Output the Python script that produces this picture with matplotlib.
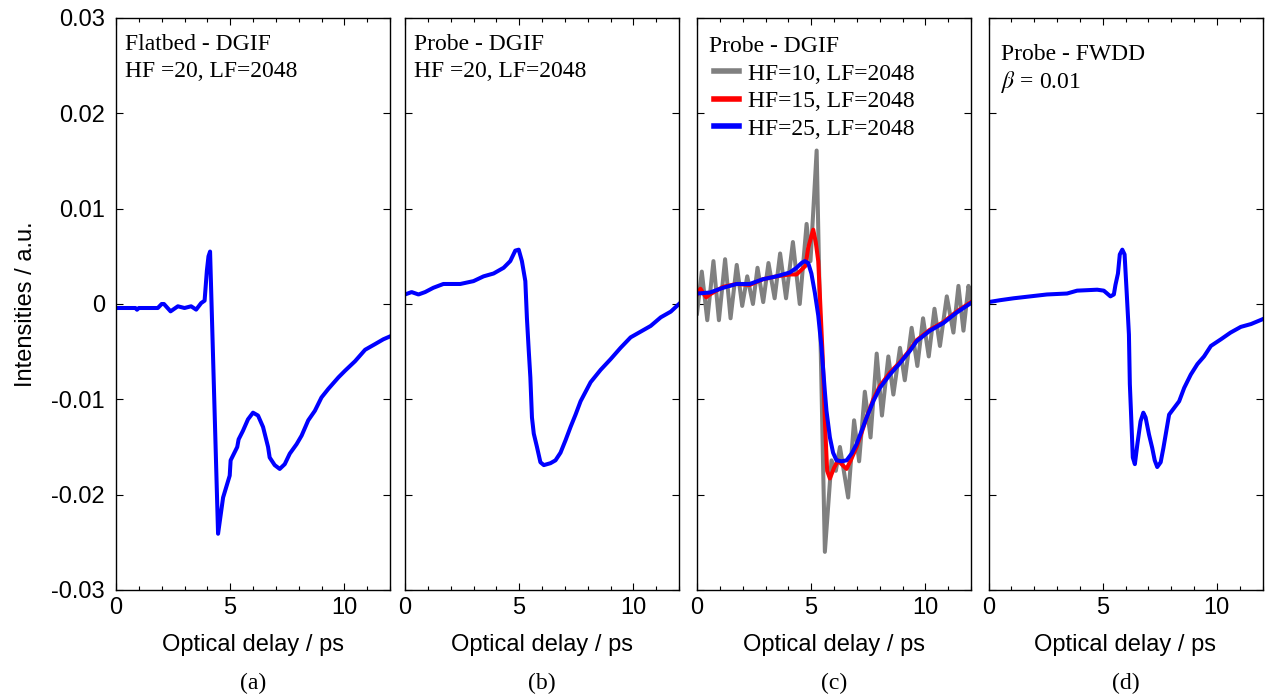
import numpy as np
import matplotlib
matplotlib.use("Agg")
import matplotlib.pyplot as plt
from matplotlib.ticker import MultipleLocator

# ---- data (intensity values in units of 1e-2 a.u.) ----
a_x = [0.0, 0.85, 0.92, 1.0, 1.83, 2.0, 2.1, 2.39, 2.71, 3.0, 3.29, 3.51, 3.73, 3.88, 3.98, 4.05, 4.12,
       4.47, 4.69, 4.98, 5.02, 5.31, 5.37, 5.56, 5.78, 6.0, 6.22, 6.44, 6.66, 6.73, 6.95, 7.17, 7.39,
       7.61, 7.91, 8.13, 8.42, 8.71, 9.0, 9.3, 9.74, 10.03, 10.47, 10.91, 11.35, 11.71, 12.0]
a_y = [-0.042, -0.042, -0.06, -0.042, -0.042, 0.0, 0.0, -0.077, -0.024, -0.042, -0.024, -0.059, 0.01,
       0.035, 0.35, 0.5, 0.55, -2.41, -2.03, -1.80, -1.64, -1.50, -1.42, -1.33, -1.21, -1.14, -1.17,
       -1.29, -1.50, -1.61, -1.69, -1.73, -1.68, -1.57, -1.47, -1.38, -1.22, -1.12, -0.98, -0.89,
       -0.77, -0.70, -0.60, -0.48, -0.42, -0.37, -0.34]

b_x = [0, 0.29, 0.59, 0.88, 1.24, 1.68, 2.42, 3.0, 3.44, 3.88, 4.32, 4.61, 4.83, 4.98, 5.12, 5.27,
       5.34, 5.42, 5.49, 5.56, 5.64, 5.78, 5.93, 6.08, 6.37, 6.59, 6.81, 7.03, 7.25, 7.47, 7.69, 8.13,
       8.57, 9.0, 9.44, 9.88, 10.32, 10.76, 11.2, 11.64, 12.0]
b_y = [0.10, 0.125, 0.10, 0.125, 0.17, 0.21, 0.21, 0.24, 0.29, 0.32, 0.38, 0.45, 0.56, 0.57, 0.45,
       0.24, -0.15, -0.49, -0.77, -1.19, -1.36, -1.50, -1.66, -1.69, -1.67, -1.64, -1.56, -1.43,
       -1.29, -1.16, -1.02, -0.82, -0.69, -0.58, -0.46, -0.35, -0.29, -0.23, -0.14, -0.08, 0.0]

c_gray_x = [0.0, 0.21, 0.45, 0.72, 0.96, 1.23, 1.47, 1.74, 1.98, 2.2, 2.45, 2.65, 2.9, 3.13, 3.4,
            3.64, 3.9, 4.2, 4.5, 4.8, 4.97, 5.24, 5.6, 5.89, 6.08, 6.26, 6.62, 6.88, 7.1, 7.35, 7.6,
            7.87, 8.1, 8.38, 8.6, 8.89, 9.1, 9.4, 9.65, 9.9, 10.15, 10.4, 10.64, 10.94, 11.23, 11.45,
            11.67, 11.89, 12.0]
c_gray_y = [-0.10, 0.34, -0.17, 0.45, -0.17, 0.47, -0.15, 0.41, -0.02, 0.29, 0.0, 0.38, 0.02, 0.43,
            0.06, 0.53, 0.06, 0.65, 0.0, 0.84, 0.45, 1.61, -2.60, -1.64, -1.75, -1.50, -2.03, -1.22,
            -1.65, -0.92, -1.40, -0.52, -1.17, -0.55, -0.95, -0.46, -0.80, -0.25, -0.65, -0.15,
            -0.55, -0.05, -0.44, 0.08, -0.30, 0.19, -0.28, 0.19, 0.05]

c_red_x = [0, 0.15, 0.4, 0.56, 1.14, 1.73, 2.31, 2.89, 3.48, 4.06, 4.36, 4.58, 4.75, 4.87, 5.09,
           5.2, 5.31, 5.38, 5.5, 5.6, 5.7, 5.82, 6.0, 6.18, 6.33, 6.55, 6.77, 6.99, 7.21, 7.43, 7.72,
           8.01, 8.45, 8.89, 9.33, 9.62, 10.2, 10.79, 11.37, 12.0]
c_red_y = [0.10, 0.16, 0.07, 0.10, 0.18, 0.21, 0.20, 0.26, 0.29, 0.31, 0.31, 0.36, 0.40, 0.59, 0.78,
           0.65, 0.45, 0.10, -0.53, -1.22, -1.75, -1.83, -1.72, -1.64, -1.68, -1.73, -1.62, -1.50,
           -1.35, -1.19, -1.00, -0.86, -0.72, -0.61, -0.48, -0.38, -0.27, -0.19, -0.08, 0.02]

c_blue_x = [0, 0.56, 1.14, 1.73, 2.31, 2.89, 3.48, 4.06, 4.36, 4.58, 4.72, 4.87, 5.01, 5.16, 5.31,
            5.45, 5.53, 5.6, 5.67, 5.82, 5.96, 6.11, 6.33, 6.55, 6.77, 6.99, 7.21, 7.43, 7.72, 8.01,
            8.45, 8.89, 9.33, 9.62, 10.2, 10.79, 11.37, 12.0]
c_blue_y = [0.11, 0.12, 0.17, 0.21, 0.21, 0.26, 0.29, 0.33, 0.38, 0.43, 0.45, 0.43, 0.32, 0.12,
            -0.12, -0.45, -0.70, -0.92, -1.12, -1.40, -1.56, -1.64, -1.65, -1.64, -1.57, -1.47,
            -1.33, -1.19, -1.02, -0.88, -0.74, -0.62, -0.49, -0.39, -0.28, -0.20, -0.09, 0.01]

d_x = [0, 0.51, 1.1, 1.83, 2.56, 3.44, 3.88, 4.76, 5.05, 5.34, 5.49, 5.56, 5.67, 5.75, 5.86, 5.96,
       6.05, 6.15, 6.19, 6.25, 6.32, 6.41, 6.52, 6.66, 6.78, 6.88, 7.03, 7.17, 7.28, 7.39, 7.54,
       7.66, 7.76, 7.91, 8.13, 8.35, 8.57, 8.86, 9.15, 9.44, 9.74, 10.18, 10.6, 11.05, 11.5, 12.0]
d_y = [0.02, 0.04, 0.06, 0.08, 0.10, 0.11, 0.14, 0.15, 0.14, 0.08, 0.10, 0.20, 0.32, 0.52, 0.57,
       0.52, 0.13, -0.32, -0.84, -1.19, -1.61, -1.68, -1.47, -1.23, -1.14, -1.19, -1.37, -1.51,
       -1.64, -1.71, -1.66, -1.51, -1.37, -1.16, -1.09, -1.02, -0.88, -0.74, -0.63, -0.55, -0.44,
       -0.37, -0.30, -0.24, -0.21, -0.16]

panel_labels = ["(a)", "(b)", "(c)", "(d)"]
c_legend = ["HF=10, LF=2048", "HF=15, LF=2048", "HF=25, LF=2048"]
y_ticks = [-0.03, -0.02, -0.01, 0, 0.01, 0.02, 0.03]
y_ticklabels = ["-0.03", "-0.02", "-0.01", "0", "0.01", "0.02", "0.03"]
SCALE = 1e-2

SANS = ["Liberation Sans", "DejaVu Sans"]
SERIF = ["Liberation Serif", "DejaVu Serif"]
plt.rcParams["font.family"] = SANS
plt.rcParams["mathtext.fontset"] = "stix"

fig = plt.figure(figsize=(12.69, 6.99), dpi=100)
W, H = 1269, 699
lefts = [116, 405, 697, 988.5]
pw = 274
top, bot = 18, 590
axes = []
for i, l in enumerate(lefts):
    ax = fig.add_axes([l / W, 1 - bot / H, pw / W, (bot - top) / H])
    axes.append(ax)

BLUE = (0, 0, 1)
RED = (1, 0, 0)
GRAY = (0.5, 0.5, 0.5)
LW = 2.9

axes[0].plot(a_x, np.array(a_y) * SCALE, color=BLUE, lw=LW, solid_joinstyle="round")
axes[1].plot(b_x, np.array(b_y) * SCALE, color=BLUE, lw=LW, solid_joinstyle="round")
l1, = axes[2].plot(c_gray_x, np.array(c_gray_y) * SCALE, color=GRAY, lw=LW, solid_joinstyle="round")
l2, = axes[2].plot(c_red_x, np.array(c_red_y) * SCALE, color=RED, lw=LW, solid_joinstyle="round")
l3, = axes[2].plot(c_blue_x, np.array(c_blue_y) * SCALE, color=BLUE, lw=LW, solid_joinstyle="round")
axes[3].plot(d_x, np.array(d_y) * SCALE, color=BLUE, lw=LW, solid_joinstyle="round")

for i, ax in enumerate(axes):
    ax.set_xlim(0, 12)
    ax.set_ylim(-0.03, 0.03)
    ax.xaxis.set_major_locator(MultipleLocator(5))
    ax.xaxis.set_minor_locator(MultipleLocator(1))
    ax.set_yticks(y_ticks)
    ax.tick_params(which="both", direction="in", top=True, right=True, width=0.8)
    ax.tick_params(which="major", length=5)
    ax.tick_params(which="minor", length=3)
    ax.tick_params(axis="x", labelsize=17, pad=5)
    ax.tick_params(axis="y", labelsize=17, pad=8)
    for s in ax.spines.values():
        s.set_linewidth(1.0)
    ax.set_xlabel("Optical delay / ps", fontsize=17, labelpad=11)
    if i == 0:
        ax.set_yticklabels(y_ticklabels)
        ax.set_ylabel("Intensities / a.u.", fontsize=17, labelpad=10)
    else:
        ax.set_yticklabels([])
    cx = (lefts[i] + pw / 2) / W
    fig.text(cx, 1 - 683 / H, panel_labels[i], ha="center", va="center",
             fontsize=17, family=SERIF)

TFS = 17
axes[0].text(0.033, 0.972, "Flatbed - DGIF\nHF =20, LF=2048", transform=axes[0].transAxes,
             ha="left", va="top", fontsize=TFS, family=SERIF, linespacing=1.35)
axes[1].text(0.033, 0.972, "Probe - DGIF\nHF =20, LF=2048", transform=axes[1].transAxes,
             ha="left", va="top", fontsize=TFS, family=SERIF, linespacing=1.35)
axes[2].text(0.045, 0.968, "Probe - DGIF", transform=axes[2].transAxes,
             ha="left", va="top", fontsize=TFS, family=SERIF)
leg = axes[2].legend([l1, l2, l3], c_legend, loc="upper left", bbox_to_anchor=(0.062, 0.921),
                     frameon=False, borderpad=0, borderaxespad=0, handlelength=1.05,
                     handletextpad=0.4, labelspacing=0.25, prop={"family": SERIF, "size": TFS})
for ln in leg.get_lines():
    ln.set_linewidth(4)
axes[3].text(0.045, 0.955, "Probe - FWDD\n$\\beta$ = 0.01", transform=axes[3].transAxes,
             ha="left", va="top", fontsize=TFS, family=SERIF, linespacing=1.25)

fig.savefig("out.png", dpi=100)
